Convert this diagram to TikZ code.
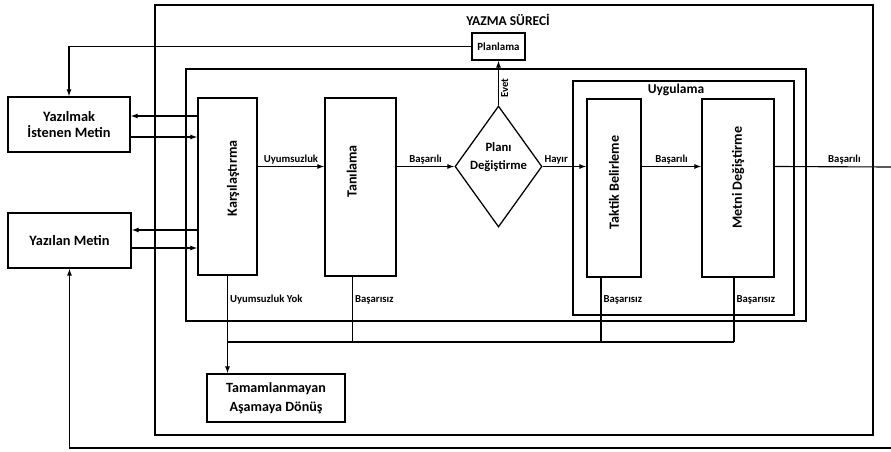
\documentclass[tikz,border=0pt]{standalone}
\usepackage{fontspec}
\setmainfont{Carlito}
\usetikzlibrary{arrows.meta,shapes.geometric}

\begin{document}
\begin{tikzpicture}[
    x=0.025cm, y=-0.025cm,
    font=\bfseries,
    box/.style={rectangle, draw, line width=0.9pt, align=center, inner sep=1pt,
        font=\fontsize{10.2}{11.5}\selectfont\bfseries},
    tallbox/.style={box, minimum width=#1, minimum height=4.45cm},
    boxtext/.style={rotate=90, inner sep=0pt, font=\fontsize{10}{12}\selectfont\bfseries},
    decision/.style={diamond, draw, line width=0.9pt, inner sep=0pt,
        minimum width=2.175cm, minimum height=3.025cm},
    frame/.style={draw, line width=0.9pt},
    arrow/.style={-{Latex[length=5pt, width=3.6pt]}, line width=0.8pt},
    line/.style={line width=0.8pt},
    note/.style={font=\fontsize{7.6}{9}\selectfont\bfseries, inner sep=1.5pt},
    title/.style={font=\fontsize{9.6}{11}\selectfont\bfseries}
]
    \useasboundingbox (0,0) rectangle (891,452);

    % frames
    \draw[frame] (155,5) rectangle (873,435);
    \draw[frame] (186,69) rectangle (806,321);
    \draw[frame] (573,81) rectangle (794,315);
    \node[title] (yazma) at (508,20) {YAZMA SÜRECİ};
    \node[title] (uyg) at (676,90) {Uygulama};

    \node[box, minimum width=3.05cm, minimum height=1.375cm] (yazilmak) at (69,124.5) {Yazılmak\\İstenen Metin};
    \node[box, minimum width=3.075cm, minimum height=1.375cm] (yazilan) at (69.5,240.5) {Yazılan Metin};
    \node[box, minimum width=1.325cm, minimum height=0.675cm, font=\fontsize{7.8}{9}\selectfont\bfseries] (plan) at (498.5,46.5) {Planlama};
    \node[tallbox=1.475cm, minimum height=4.425cm] (kars) at (227.5,186.5) {};
    \node[tallbox=1.775cm] (tani) at (360.5,187) {};
    \node[decision] (dia) at (498.5,166.5) {};
    \node[tallbox=1.35cm] (taktik) at (614,188) {};
    \node[tallbox=1.8cm] (metni) at (738,188) {};
    \node[box, minimum width=3.45cm, minimum height=1.2cm, font=\fontsize{10}{13.5}\selectfont\bfseries] (tamam) at (276,398) {Tamamlanmayan\\Aşamaya Dönüş};

    \node[boxtext] (karstext) at ([xshift=0.14cm, yshift=0.2cm]kars.center) {Karşılaştırma};
    \node[boxtext] (tanitext) at ([xshift=-0.22cm, yshift=0.39cm]tani.center) {Tanılama};
    \node[align=center, font=\fontsize{9}{13}\selectfont\bfseries] (diatext) at ([yshift=0.24cm]dia.center) {Planı\\Değiştirme};
    \node[boxtext] (taktiktext) at ([yshift=0.14cm]taktik.center) {Taktik Belirleme};
    \node[boxtext] (metnitext) at ([yshift=0.26cm]metni.center) {Metni Değiştirme};

    \coordinate (exit) at (891,167);
    \coordinate (back) at (891,448);
    \coordinate (join) at (kars.south |- 0,342);

    % texts <-> comparison
    \draw[arrow] (kars.west |- 0,116) -- (yazilmak.east |- 0,116);
    \draw[arrow] (yazilmak.east |- 0,137) -- (kars.west |- 0,137);
    \draw[arrow] (kars.west |- 0,230) -- (yazilan.east |- 0,230);
    \draw[arrow] (yazilan.east |- 0,248) -- (kars.west |- 0,248);

    % main flow
    \draw[arrow] (kars.east |- dia.west) -- node[above, note] {Uyumsuzluk} (tani.west |- dia.west);
    \draw[arrow] (tani.east |- dia.west) -- node[above, note] {Başarılı} (dia.west);
    \draw[arrow] (dia.east) -- node[above, note, pos=0.31] {Hayır} (taktik.west |- dia.east);
    \draw[arrow] (taktik.east |- dia.east) -- node[above, note] {Başarılı} (metni.west |- dia.east);
    \draw[line] (metni.east |- dia.east) -- node[above, note, pos=0.6] {Başarılı} (exit);
    \draw[arrow] (dia.north) -- node[note, rotate=90, anchor=north, pos=0.39] {Evet} (plan.south);
    \draw[arrow] (plan.west) -| (yazilmak.north);

    % failures
    \draw[arrow] (kars.south) -- node[right, note, pos=0.25] {Uyumsuzluk Yok} (kars.south |- tamam.north);
    \draw[line] ([xshift=-0.2cm]tani.south) -- node[right, note, pos=0.35] {Başarısız} ([xshift=-0.2cm]tani.south |- join);
    \draw[line] ([xshift=-0.325cm]taktik.south) -- node[right, note, pos=0.35] {Başarısız} ([xshift=-0.325cm]taktik.south |- join);
    \draw[line] ([xshift=-0.1cm]metni.south) -- node[right, note, pos=0.35] {Başarısız} ([xshift=-0.1cm]metni.south |- join);
    \draw[line] (join) -- ([xshift=-0.1cm]metni.south |- join);

    % return to written text
    \draw[arrow] (back) -| (yazilan.south);
\end{tikzpicture}
\end{document}
